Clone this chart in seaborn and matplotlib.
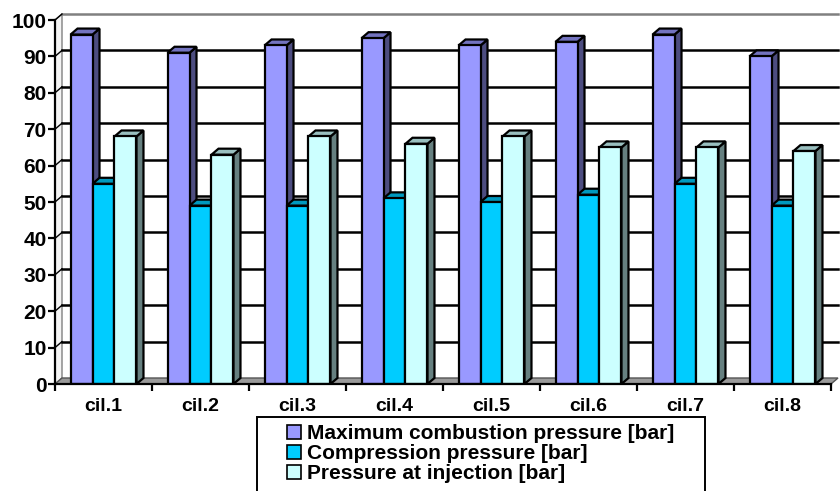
import numpy as np
import pandas as pd
import seaborn as sns
import matplotlib.pyplot as plt
from matplotlib.patches import Polygon, Rectangle

# Data
cylinders = ['cil.1', 'cil.2', 'cil.3', 'cil.4', 'cil.5', 'cil.6', 'cil.7', 'cil.8']
max_combustion = [96, 91, 93, 95, 93, 94, 96, 90]
compression = [55, 49, 49, 51, 50, 52, 55, 49]
injection = [68, 63, 68, 66, 68, 65, 65, 64]
series_names = ['Maximum combustion pressure [bar]',
                'Compression pressure [bar]',
                'Pressure at injection [bar]']

df = pd.DataFrame({
    'cylinder': cylinders * 3,
    'value': max_combustion + compression + injection,
    'series': [s for s in series_names for _ in cylinders],
})

front = ['#9999FF', '#00CCFF', '#CCFFFF']
side = ['#4D4D80', '#00667F', '#668080']
top = ['#7373BF', '#0099BF', '#99BFBF']

plt.rcParams['font.family'] = ['Liberation Sans', 'DejaVu Sans']
plt.rcParams['font.weight'] = 'bold'

fig = plt.figure(figsize=(8.4, 4.91), dpi=100)
ax = fig.add_axes([55 / 840, 1 - 384 / 491, 776 / 840, 364 / 491])

sns.barplot(data=df, x='cylinder', y='value', hue='series', palette=front,
            width=0.68, saturation=1, edgecolor='black', linewidth=1.6,
            ax=ax, zorder=3)

handles, labels = ax.get_legend_handles_labels()
if ax.get_legend() is not None:
    ax.get_legend().remove()

ax.set_xlim(-0.5, 7.5)
ax.set_ylim(0, 100)

# depth offset of the fake 3D, in data units (about 7 px right, 6 px up)
dx = 7 / (ax.bbox.width / 8)
dy = 6 / (ax.bbox.height / 100)

# back wall, left wall and floor
ax.add_patch(Polygon([(-0.5, 0), (-0.5 + dx, dy), (-0.5 + dx, 100 + dy), (-0.5, 100)],
                     closed=True, facecolor='#f4f4f4', edgecolor='#808080', lw=1,
                     clip_on=False, zorder=0.5))
ax.add_patch(Polygon([(-0.5, 0), (7.5, 0), (7.5 + dx, dy), (-0.5 + dx, dy)],
                     closed=True, facecolor='#9a9a9a', edgecolor='#555555', lw=1,
                     clip_on=False, zorder=0.6))
for v in range(10, 101, 10):
    col = '#808080' if v == 100 else 'black'
    ax.plot([-0.5 + dx, 7.5 + dx], [v + dy, v + dy], color=col, lw=1.8,
            clip_on=False, zorder=1)
    ax.plot([-0.5, -0.5 + dx], [v, v + dy], color='black', lw=1,
            clip_on=False, zorder=1)

# side and top faces of each bar
bars = [p for p in ax.patches if isinstance(p, Rectangle) and p.get_height() > 0]
for i, p in enumerate(bars):
    k = i // len(cylinders)
    x0, w, h = p.get_x(), p.get_width(), p.get_height()
    ax.add_patch(Polygon([(x0 + w, 0), (x0 + w + dx, dy), (x0 + w + dx, h + dy), (x0 + w, h)],
                         closed=True, facecolor=side[k], edgecolor='black', lw=1.6,
                         clip_on=False, zorder=2.5))
    ax.add_patch(Polygon([(x0, h), (x0 + w, h), (x0 + w + dx, h + dy), (x0 + dx, h + dy)],
                         closed=True, facecolor=top[k], edgecolor='black', lw=1.6,
                         clip_on=False, zorder=2.5))

# axes
for s in ['top', 'right']:
    ax.spines[s].set_visible(False)
for s in ['left', 'bottom']:
    ax.spines[s].set_color('black')
    ax.spines[s].set_linewidth(1.6)
    ax.spines[s].set_zorder(4)
ax.set_facecolor('none')

ax.set_yticks(range(0, 101, 10))
ax.tick_params(axis='y', direction='out', length=5, width=1.6, labelsize=15, pad=1)
ax.set_xticks(np.arange(-0.5, 8, 1))
ax.set_xticklabels([])
ax.tick_params(axis='x', which='major', direction='out', length=5, width=1.6)
ax.set_xticks(range(8), minor=True)
ax.set_xticklabels(cylinders, minor=True, fontsize=14, fontweight='bold')
ax.tick_params(axis='x', which='minor', length=0, pad=10)
ax.set_xlabel('')
ax.set_ylabel('')

# legend
for hd in handles:
    hd.set_edgecolor('black')
    hd.set_linewidth(1.2)
fig.legend(handles, labels, loc='upper left', bbox_to_anchor=(287 / 840, 1 - 424 / 491),
           frameon=False, handlelength=0.68, handleheight=0.68,
           handletextpad=0.3, labelspacing=0.05, borderpad=0, borderaxespad=0,
           prop={'weight': 'bold', 'size': 15})
fig.add_artist(Rectangle((257 / 840, -0.05), (705 - 257) / 840, 1 - 417 / 491 + 0.05,
                         transform=fig.transFigure, fill=False, edgecolor='black', lw=1.4))

plt.savefig('out.png', dpi=100)
